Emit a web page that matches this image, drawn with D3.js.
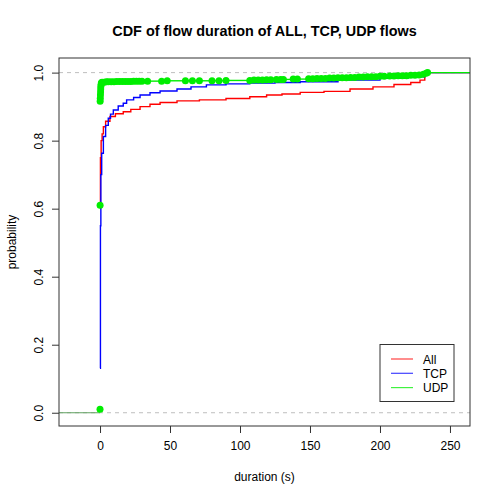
<!DOCTYPE html>
<html>
<head>
<meta charset="utf-8">
<script src="https://cdn.jsdelivr.net/npm/d3@7"></script>
<style>
  body { margin: 0; background: #fff; }
  text { font-family: "Liberation Sans", Arial, sans-serif; }
</style>
</head>
<body>
<div id="chart"></div>
<script>
// ECDF step points
const allX = [0, 0.3, 0.8, 1.5, 2.4, 4, 7.1, 11, 16.6, 22, 28.6, 35.7, 42.9, 55, 71, 90, 107, 119, 130, 143, 160, 178.6, 195, 210, 222, 228.6, 232];
const allY = [0.60, 0.75, 0.80, 0.82, 0.841, 0.857, 0.871, 0.879, 0.885, 0.892, 0.900, 0.907, 0.912, 0.917, 0.920, 0.924, 0.929, 0.934, 0.937, 0.942, 0.945, 0.952, 0.958, 0.965, 0.971, 0.978, 1.0];

const tcpX = [0, 0.3, 0.6, 1.2, 2.4, 4, 5.9, 7.5, 9.5, 13, 16.6, 19, 24, 28.6, 35.7, 42.9, 55, 65, 76, 90, 107, 125, 143, 170, 200, 220, 232];
const tcpY = [0.131, 0.55, 0.70, 0.763, 0.812, 0.845, 0.866, 0.878, 0.890, 0.902, 0.910, 0.920, 0.927, 0.934, 0.941, 0.946, 0.952, 0.958, 0.964, 0.967, 0.969, 0.971, 0.973, 0.978, 0.983, 0.988, 1.0];

const udpX = [0, 0.05, 0.1, 0.2, 0.3, 0.4, 0.5, 0.6, 0.8, 1.0, 1.5, 3, 4.5, 6, 8, 10, 12, 14, 16, 18, 20, 22, 24, 26, 28, 30, 34, 44, 48, 61, 66, 71, 80, 85, 90, 107, 110, 113, 116, 119, 122, 126, 129, 131, 138, 141, 149, 152, 155, 158, 161, 164, 167, 170, 173, 176, 179, 182, 185, 188, 191, 194, 197, 200, 203, 207, 210, 213, 216, 219, 222, 225, 228, 231, 233, 234];
const udpY = [0.01, 0.61, 0.916, 0.925, 0.934, 0.943, 0.952, 0.960, 0.966, 0.970, 0.972, 0.972, 0.973, 0.973, 0.973, 0.973, 0.974, 0.974, 0.974, 0.974, 0.974, 0.974, 0.975, 0.975, 0.975, 0.975, 0.975, 0.975, 0.976, 0.976, 0.976, 0.976, 0.976, 0.976, 0.977, 0.977, 0.978, 0.978, 0.978, 0.979, 0.979, 0.980, 0.980, 0.980, 0.981, 0.981, 0.982, 0.982, 0.983, 0.983, 0.983, 0.984, 0.984, 0.985, 0.985, 0.985, 0.986, 0.986, 0.987, 0.987, 0.988, 0.988, 0.988, 0.989, 0.989, 0.990, 0.990, 0.991, 0.991, 0.991, 0.992, 0.992, 0.993, 0.995, 0.998, 1.0];

const xTicks = [0, 50, 100, 150, 200, 250];
const yTicks = [0, 0.2, 0.4, 0.6, 0.8, 1.0];
const legendLabels = ["All", "TCP", "UDP"];
const legendColors = ["#ff0000", "#0000ff", "#00ee00"];

const W = 500, H = 500;
const mLeft = 59, mRight = 470, mTop = 58, mBottom = 426;

const svg = d3.select("#chart").append("svg")
  .attr("width", W)
  .attr("height", H);

const x = d3.scaleLinear().domain([-29.3, 264.3]).range([mLeft, mRight]);
const y = d3.scaleLinear().domain([-0.039, 1.043]).range([mBottom, mTop]);

const plot = svg.append("g");

// dashed reference lines at 0 and 1
plot.selectAll("line.ref")
  .data([0, 1])
  .enter()
  .append("line")
  .attr("class", "ref")
  .attr("x1", mLeft).attr("x2", mRight)
  .attr("y1", d => y(d)).attr("y2", d => y(d))
  .attr("stroke", "#bebebe")
  .attr("stroke-dasharray", "4,4");

function stepLine(xs, ys, color) {
  const pts = xs.map((v, i) => [v, ys[i]]);
  pts.push([x.domain()[1], ys[ys.length - 1]]);
  plot.append("path")
    .datum(pts)
    .attr("fill", "none")
    .attr("stroke", color)
    .attr("stroke-width", 1.4)
    .attr("d", d3.line().x(d => x(d[0])).y(d => y(d[1])).curve(d3.curveStepAfter));
}

stepLine(allX, allY, "#ff0000");
stepLine(tcpX, tcpY, "#0000ff");

// UDP: horizontal segments only, with points
const udpSegs = [[x.domain()[0], udpX[0], 0]];
udpX.forEach((v, i) => {
  const nx = i < udpX.length - 1 ? udpX[i + 1] : x.domain()[1];
  udpSegs.push([v, nx, udpY[i]]);
});

plot.selectAll("line.udp")
  .data(udpSegs)
  .enter()
  .append("line")
  .attr("class", "udp")
  .attr("x1", d => x(d[0])).attr("x2", d => x(d[1]))
  .attr("y1", d => y(d[2])).attr("y2", d => y(d[2]))
  .attr("stroke", (d, i) => i === 0 ? "#5fa05f" : "#00ee00")
  .attr("stroke-width", (d, i) => i === 0 ? 1.2 : 1.4);

plot.selectAll("circle.udp")
  .data(udpX.map((v, i) => [v, udpY[i]]))
  .enter()
  .append("circle")
  .attr("class", "udp")
  .attr("cx", d => x(d[0]))
  .attr("cy", d => y(d[1]))
  .attr("r", 3.5)
  .attr("fill", "#00ee00");

// box
svg.append("rect")
  .attr("x", mLeft).attr("y", mTop)
  .attr("width", mRight - mLeft).attr("height", mBottom - mTop)
  .attr("fill", "none")
  .attr("stroke", "#333");

// axes
const xAxis = svg.append("g")
  .attr("transform", `translate(0,${mBottom})`)
  .call(d3.axisBottom(x).tickValues(xTicks).tickSize(7).tickPadding(8).tickFormat(d3.format("d")));
xAxis.select(".domain").remove();
xAxis.selectAll("line").attr("stroke", "#333");
xAxis.selectAll("text").attr("font-size", 12).attr("fill", "#000")
  .attr("font-family", "Liberation Sans, Arial, sans-serif");

const yAxis = svg.append("g")
  .attr("transform", `translate(${mLeft},0)`)
  .call(d3.axisLeft(y).tickValues(yTicks).tickSize(7).tickFormat(d3.format(".1f")));
yAxis.select(".domain").remove();
yAxis.selectAll("line").attr("stroke", "#333");
yAxis.selectAll("text")
  .attr("font-size", 12).attr("fill", "#000")
  .attr("font-family", "Liberation Sans, Arial, sans-serif")
  .attr("x", null).attr("dy", null)
  .attr("text-anchor", "middle")
  .attr("transform", "translate(-16,0) rotate(-90)");

// titles
svg.append("text")
  .attr("x", (mLeft + mRight) / 2).attr("y", 36)
  .attr("text-anchor", "middle")
  .attr("font-size", 14.4).attr("font-weight", "bold")
  .text("CDF of flow duration of ALL, TCP, UDP flows");

svg.append("text")
  .attr("x", (mLeft + mRight) / 2).attr("y", 481)
  .attr("text-anchor", "middle")
  .attr("font-size", 12)
  .text("duration (s)");

svg.append("text")
  .attr("transform", `translate(16,${(mTop + mBottom) / 2}) rotate(-90)`)
  .attr("text-anchor", "middle")
  .attr("font-size", 12)
  .text("probability");

// legend
const lg = svg.append("g");
lg.append("rect")
  .attr("x", 380).attr("y", 344.5)
  .attr("width", 74).attr("height", 57)
  .attr("fill", "#fff")
  .attr("stroke", "#333");

const legendItems = legendLabels.map((label, i) => ({ label, color: legendColors[i], i }));

const rows = lg.selectAll("g.row")
  .data(legendItems)
  .enter()
  .append("g")
  .attr("class", "row")
  .attr("transform", d => `translate(0,${359 + d.i * 14.3})`);

rows.append("line")
  .attr("x1", 391).attr("x2", 413)
  .attr("stroke", d => d.color)
  .attr("stroke-opacity", 0.75)
  .attr("stroke-width", 1.2);

rows.append("text")
  .attr("x", 423).attr("y", 4.5)
  .attr("font-size", 12)
  .text(d => d.label);
</script>
</body>
</html>
